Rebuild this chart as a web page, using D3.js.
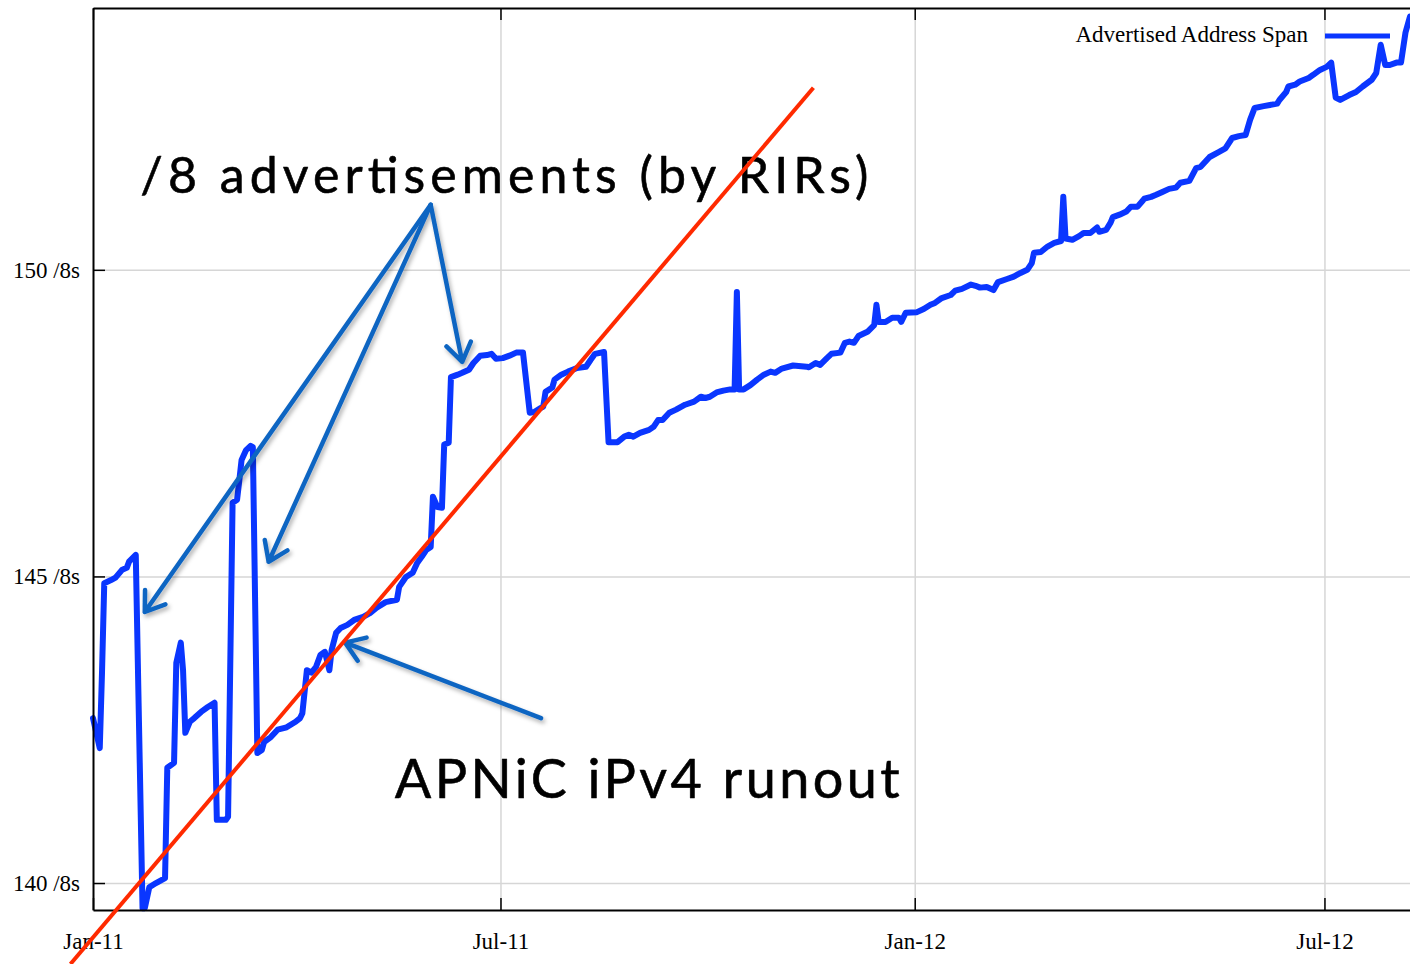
<!DOCTYPE html>
<html>
<head>
<meta charset="utf-8">
<script src="https://cdn.jsdelivr.net/npm/d3@7"></script>
<style>
  body { margin: 0; background: #fff; }
  svg { display: block; }
  .axis text { font-family: "Liberation Serif", "Times New Roman", serif; font-size: 23px; fill: #000; }
</style>
</head>
<body>
<svg></svg>
<script>
// advertised address span (date, number of /8s)
var spanDates = [
  "2011-01-01","2011-01-04","2011-01-05","2011-01-06","2011-01-09","2011-01-11","2011-01-14","2011-01-16","2011-01-17","2011-01-20",
  "2011-01-23","2011-01-24","2011-01-26","2011-01-29","2011-02-02","2011-02-03","2011-02-06","2011-02-07","2011-02-09","2011-02-10",
  "2011-02-11","2011-02-13","2011-02-15","2011-02-18","2011-02-21","2011-02-24","2011-02-25","2011-03-01","2011-03-02","2011-03-04",
  "2011-03-06","2011-03-07","2011-03-08","2011-03-10","2011-03-12","2011-03-13","2011-03-15","2011-03-17","2011-03-18","2011-03-21",
  "2011-03-24","2011-03-28","2011-04-01","2011-04-03","2011-04-04","2011-04-06","2011-04-08","2011-04-10","2011-04-12","2011-04-14",
  "2011-04-16","2011-04-17","2011-04-19","2011-04-21","2011-04-24","2011-04-27","2011-05-01","2011-05-04","2011-05-07","2011-05-11",
  "2011-05-16","2011-05-17","2011-05-20","2011-05-23","2011-05-25","2011-05-27","2011-05-29","2011-05-31","2011-06-01","2011-06-03",
  "2011-06-05","2011-06-06","2011-06-08","2011-06-09","2011-06-12","2011-06-14","2011-06-17","2011-06-19","2011-06-22","2011-06-25",
  "2011-06-27","2011-06-29","2011-07-02","2011-07-05","2011-07-08","2011-07-11","2011-07-14","2011-07-16","2011-07-19","2011-07-20",
  "2011-07-21","2011-07-24","2011-07-25","2011-07-28","2011-07-31","2011-08-04","2011-08-08","2011-08-10","2011-08-12","2011-08-16",
  "2011-08-18","2011-08-22","2011-08-25","2011-08-27","2011-08-29","2011-09-01","2011-09-05","2011-09-07","2011-09-09","2011-09-11",
  "2011-09-14","2011-09-17","2011-09-21","2011-09-25","2011-09-28","2011-09-30","2011-10-02","2011-10-05","2011-10-08","2011-10-11",
  "2011-10-13","2011-10-14","2011-10-15","2011-10-17","2011-10-20","2011-10-23","2011-10-26","2011-10-29","2011-10-31","2011-11-03",
  "2011-11-08","2011-11-14","2011-11-15","2011-11-18","2011-11-20","2011-11-23","2011-11-25","2011-11-29","2011-12-01","2011-12-03",
  "2011-12-05","2011-12-07","2011-12-11","2011-12-14","2011-12-15","2011-12-16","2011-12-19","2011-12-22","2011-12-25","2011-12-26",
  "2011-12-28","2012-01-02","2012-01-05","2012-01-08","2012-01-10","2012-01-13","2012-01-17","2012-01-19","2012-01-22","2012-01-26",
  "2012-01-28","2012-01-30","2012-02-02","2012-02-05","2012-02-07","2012-02-11","2012-02-14","2012-02-17","2012-02-20","2012-02-22",
  "2012-02-23","2012-02-26","2012-02-29","2012-03-03","2012-03-06","2012-03-07","2012-03-08","2012-03-11","2012-03-14","2012-03-16",
  "2012-03-19","2012-03-22","2012-03-23","2012-03-26","2012-03-28","2012-03-29","2012-04-01","2012-04-04","2012-04-06","2012-04-09",
  "2012-04-12","2012-04-15","2012-04-17","2012-04-20","2012-04-23","2012-04-26","2012-04-28","2012-05-02","2012-05-05","2012-05-07",
  "2012-05-11","2012-05-15","2012-05-18","2012-05-21","2012-05-24","2012-05-27","2012-05-29","2012-05-31","2012-06-04","2012-06-10",
  "2012-06-11","2012-06-14","2012-06-15","2012-06-18","2012-06-20","2012-06-24","2012-06-26","2012-06-29","2012-07-02","2012-07-04",
  "2012-07-06","2012-07-08","2012-07-12","2012-07-15","2012-07-18","2012-07-22","2012-07-24","2012-07-26","2012-07-28","2012-07-30",
  "2012-08-02","2012-08-04","2012-08-06","2012-08-08"
];
var spanValues = [
  142.69,142.20,143.43,144.89,144.94,144.98,145.11,145.14,145.24,145.35,
  139.59,139.59,139.93,140.00,140.08,141.88,141.96,143.59,143.92,143.47,
  142.45,142.63,142.69,142.79,142.87,142.94,141.03,141.03,141.08,146.20,
  146.25,146.57,146.90,147.06,147.13,147.11,142.12,142.17,142.30,142.38,
  142.50,142.54,142.63,142.69,142.77,143.47,143.43,143.52,143.72,143.77,
  143.47,143.80,144.08,144.16,144.21,144.29,144.34,144.40,144.49,144.58,
  144.62,144.83,144.99,145.06,145.22,145.32,145.43,145.48,146.30,146.13,
  146.12,147.15,147.18,148.25,148.29,148.32,148.37,148.48,148.60,148.61,
  148.63,148.55,148.56,148.60,148.65,148.65,147.67,147.68,147.75,147.77,
  148.01,148.08,148.21,148.29,148.34,148.40,148.42,148.53,148.63,148.66,
  147.19,147.19,147.28,147.31,147.28,147.34,147.39,147.44,147.55,147.55,
  147.67,147.72,147.80,147.85,147.93,147.91,147.93,148.00,148.03,148.05,
  148.05,149.64,148.05,148.05,148.12,148.21,148.29,148.34,148.32,148.39,
  148.44,148.42,148.41,148.48,148.45,148.56,148.63,148.65,148.81,148.83,
  148.81,148.92,148.99,149.10,149.43,149.15,149.15,149.22,149.22,149.15,
  149.30,149.31,149.36,149.43,149.46,149.54,149.59,149.66,149.69,149.76,
  149.74,149.71,149.72,149.67,149.80,149.85,149.89,149.95,150.00,150.11,
  150.28,150.29,150.38,150.44,150.47,151.19,150.51,150.49,150.55,150.60,
  150.60,150.69,150.62,150.65,150.77,150.86,150.90,150.95,151.03,151.03,
  151.16,151.19,151.22,151.27,151.32,151.34,151.42,151.45,151.66,151.68,
  151.84,151.92,151.98,152.15,152.18,152.20,152.45,152.64,152.67,152.71,
  152.77,152.90,152.99,153.02,153.07,153.13,153.18,153.26,153.31,153.38,
  152.81,152.77,152.85,152.90,152.99,153.10,153.21,153.67,153.34,153.34,
  153.38,153.38,153.87,154.13
];

// axis ticks
var xTickDates = ["2011-01-01", "2011-07-01", "2012-01-01", "2012-07-01"];
var yTickValues = [140, 145, 150];

// hand drawn runout trend line (two ends)
var trendDates = ["2010-12-22", "2011-11-17"];
var trendValues = [138.68, 152.97];

// hand drawn notes: arrows start at one point and go to each /8 jump
var noteArrowFrom = ["2011-05-31", 151.06];
var noteArrowTo = [["2011-01-24", 144.42], ["2011-03-20", 145.24], ["2011-06-14", 148.50]];
var runoutArrow = [["2011-07-19", 142.69], ["2011-04-23", 143.92]];
var notes = [
  {text: "/8 advertisements (by RIRs)", date: "2011-01-22", value: 151.26, size: 50, len: 728},
  {text: "APNiC iPv4 runout", date: "2011-05-15", value: 141.39, size: 54, len: 505}
];

var parse = d3.timeParse("%Y-%m-%d");
var width = 1410, height = 964;
var plotLeft = 93, plotRight = 1410, plotTop = 8, plotBottom = 910;

var svg = d3.select("svg")
  .attr("width", width)
  .attr("height", height);

var x = d3.scaleTime()
  .domain([parse("2011-01-01"), parse("2012-08-08")])
  .range([plotLeft, plotRight]);
var y = d3.scaleLinear()
  .domain([139.56, 154.27])
  .range([plotBottom, plotTop]);

// drop shadow for the hand drawn arrows
svg.append("defs").append("filter")
  .attr("id", "shadow")
  .attr("x", "-20%").attr("y", "-20%").attr("width", "140%").attr("height", "140%")
  .append("feDropShadow")
    .attr("dx", 2).attr("dy", 3)
    .attr("stdDeviation", 2)
    .attr("flood-color", "#000")
    .attr("flood-opacity", 0.3);

// grid lines
svg.append("g")
  .attr("transform", "translate(" + plotLeft + ",0)")
  .call(d3.axisLeft(y).tickValues(yTickValues).tickSize(-(plotRight - plotLeft)).tickFormat(""))
  .call(function(g) { g.select(".domain").remove(); })
  .selectAll("line").attr("stroke", "#d6d6d6").attr("stroke-width", 1.5);

svg.append("g")
  .attr("transform", "translate(0," + plotBottom + ")")
  .call(d3.axisBottom(x).tickValues(xTickDates.slice(1).map(parse)).tickSize(-(plotBottom - plotTop)).tickFormat(""))
  .call(function(g) { g.select(".domain").remove(); })
  .selectAll("line").attr("stroke", "#d6d6d6").attr("stroke-width", 1.5);

// the series
var line = d3.line()
  .x(function(d) { return x(d[0]); })
  .y(function(d) { return y(d[1]); });

var series = spanDates.map(function(d, i) { return [parse(d), spanValues[i]]; });

svg.append("path")
  .datum(series)
  .attr("d", line)
  .attr("fill", "none")
  .attr("stroke", "#0a36ff")
  .attr("stroke-width", 6)
  .attr("stroke-linejoin", "round")
  .attr("stroke-linecap", "round");

// frame and ticks
var yAxis = svg.append("g")
  .attr("class", "axis")
  .attr("transform", "translate(" + plotLeft + ",0)")
  .call(d3.axisLeft(y).tickValues(yTickValues).tickSize(-12).tickSizeOuter(0).tickPadding(13)
    .tickFormat(function(d) { return d + " /8s"; }));

var xAxis = svg.append("g")
  .attr("class", "axis")
  .attr("transform", "translate(0," + plotBottom + ")")
  .call(d3.axisBottom(x).tickValues(xTickDates.map(parse)).tickSize(-12).tickSizeOuter(0).tickPadding(23)
    .tickFormat(d3.timeFormat("%b-%y")));

var topAxis = svg.append("g")
  .attr("class", "axis")
  .attr("transform", "translate(0," + plotTop + ")")
  .call(d3.axisTop(x).tickValues(xTickDates.map(parse)).tickSize(-12).tickSizeOuter(0).tickFormat(""));

svg.selectAll(".axis .domain")
  .attr("stroke", "#000")
  .attr("stroke-width", 2);
svg.selectAll(".axis .tick line")
  .attr("stroke", "#000")
  .attr("stroke-width", 1.5);

// legend
var legend = svg.append("g");
legend.append("text")
  .attr("x", 1308)
  .attr("y", 42)
  .attr("text-anchor", "end")
  .style("font-family", "'Liberation Serif', 'Times New Roman', serif")
  .style("font-size", "23px")
  .text("Advertised Address Span");
legend.append("line")
  .attr("x1", 1325).attr("x2", 1390)
  .attr("y1", 36).attr("y2", 36)
  .attr("stroke", "#0a36ff")
  .attr("stroke-width", 5);

// hand written notes
svg.selectAll("text.note")
  .data(notes)
  .enter()
  .append("text")
    .classed("note", true)
    .attr("x", function(d) { return x(parse(d.date)); })
    .attr("y", function(d) { return y(d.value); })
    .attr("textLength", function(d) { return d.len; })
    .attr("lengthAdjust", "spacing")
    .style("font-family", "'Comic Sans MS', Lato, sans-serif")
    .style("font-size", function(d) { return d.size + "px"; })
    .attr("fill", "#000")
    .attr("stroke", "#000")
    .attr("stroke-width", 0.6)
    .attr("stroke-linejoin", "round")
    .text(function(d) { return d.text; });

// arrows
function arrowPath(from, to) {
  var x0 = x(parse(from[0])), y0 = y(from[1]);
  var x1 = x(parse(to[0])), y1 = y(to[1]);
  var a = Math.atan2(y0 - y1, x0 - x1);
  var head = 22, spread = 0.6;
  return "M" + x0 + "," + y0 + "L" + x1 + "," + y1 +
    "M" + (x1 + head * Math.cos(a - spread)) + "," + (y1 + head * Math.sin(a - spread)) +
    "L" + x1 + "," + y1 +
    "L" + (x1 + head * Math.cos(a + spread)) + "," + (y1 + head * Math.sin(a + spread));
}

var arrows = svg.append("g")
  .attr("filter", "url(#shadow)")
  .attr("fill", "none")
  .attr("stroke", "#1165c2")
  .attr("stroke-width", 4.5)
  .attr("stroke-linecap", "round")
  .attr("stroke-linejoin", "round");

arrows.selectAll("path.note-arrow")
  .data(noteArrowTo)
  .enter()
  .append("path")
    .classed("note-arrow", true)
    .attr("d", function(d) { return arrowPath(noteArrowFrom, d); });

arrows.append("path")
  .attr("d", arrowPath(runoutArrow[0], runoutArrow[1]));

// red trend line, drawn on top and not clipped
svg.append("line")
  .attr("x1", x(parse(trendDates[0])))
  .attr("y1", y(trendValues[0]))
  .attr("x2", x(parse(trendDates[1])))
  .attr("y2", y(trendValues[1]))
  .attr("stroke", "#ff2a00")
  .attr("stroke-width", 4);
</script>
</body>
</html>
